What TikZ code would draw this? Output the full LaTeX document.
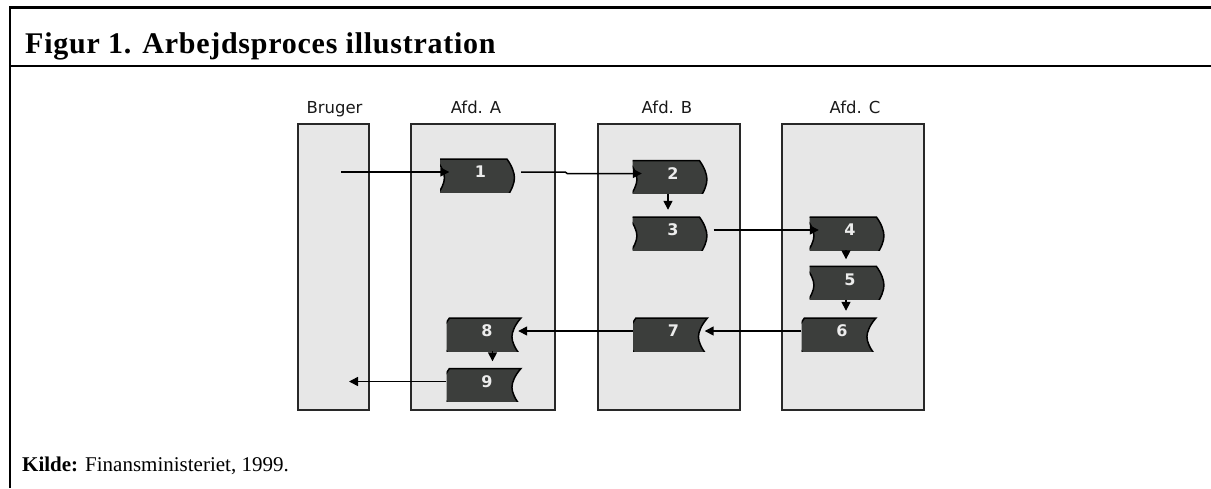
\documentclass[tikz,border=0pt]{standalone}
\usepackage{fontspec}
\setmainfont{Liberation Serif}
\newfontfamily\titlefont{Liberation Serif}[LetterSpace=2.5]
\newfontfamily\lanefont{DejaVu Sans}
\usetikzlibrary{arrows.meta}
\definecolor{lanefill}{RGB}{231,231,231}
\definecolor{laneline}{RGB}{40,40,40}
\definecolor{procfill}{RGB}{60,62,60}
\definecolor{numtext}{RGB}{236,236,236}

\tikzset{
  frame/.style={line width=2.2pt, draw=black},
  lane/.style={draw=laneline, fill=lanefill, line width=1.6pt, inner sep=0pt},
  lanelabel/.style={font=\lanefont\fontsize{16.5}{19}\selectfont, text=black!90, anchor=base, inner sep=0pt},
  procbase/.style={minimum width=81pt, minimum height=40pt, inner sep=0pt,
    text=numtext, font=\lanefont\bfseries\fontsize{16}{18}\selectfont},
  % step box pointing right: notched left side, rounded point on the right
  procR/.style={procbase, path picture={
    \path[fill=procfill, draw=black, line width=1.5pt, shift={(path picture bounding box.center)}]
      (-39.5pt,18.8pt) -- (32pt,18.8pt)
      .. controls (37pt,12pt) and (39.5pt,5pt) .. (39.5pt,0pt)
      .. controls (39.5pt,-5pt) and (37pt,-12pt) .. (32pt,-18.8pt)
      -- (-39.5pt,-18.8pt)
      .. controls (-33.5pt,-12pt) and (-30.5pt,-5pt) .. (-30.5pt,0pt)
      .. controls (-30.5pt,5pt) and (-33.5pt,12pt) .. (-39.5pt,18.8pt) -- cycle;}},
  % step box pointing left: rounded point on the left, notched right side
  procL/.style={procbase, path picture={
    \path[fill=procfill, draw=black, line width=1.5pt, shift={(path picture bounding box.center)}]
      (39.5pt,18.8pt) -- (-32pt,18.8pt)
      .. controls (-37pt,12pt) and (-39.5pt,5pt) .. (-39.5pt,0pt)
      .. controls (-39.5pt,-5pt) and (-37pt,-12pt) .. (-32pt,-18.8pt)
      -- (39.5pt,-18.8pt)
      .. controls (33.5pt,-12pt) and (30.5pt,-5pt) .. (30.5pt,0pt)
      .. controls (30.5pt,5pt) and (33.5pt,12pt) .. (39.5pt,18.8pt) -- cycle;}},
  flow/.style={line width=1.5pt, draw=black, -{Triangle[length=9pt,width=9pt]}},
}

\begin{document}
\begin{tikzpicture}[x=1pt,y=-1pt]
\useasboundingbox (0,0) rectangle (1211,488);

% frame of the figure box
\draw[frame] (10,488) -- (10,7.5) -- (1211,7.5);
\draw[frame] (10,66) -- (1211,66);
\node[anchor=base west, inner sep=0pt, font=\titlefont\bfseries\fontsize{30}{34}\selectfont]
  (title) at (25,53) {Figur 1. Arbejdsproces illustration};
\node[anchor=base west, inner sep=0pt, font=\fontsize{21}{25}\selectfont]
  (source) at (22,471) {\textbf{Kilde:} Finansministeriet, 1999.};

% swimlanes
\node[lane, minimum width=71pt,  minimum height=286pt] (bruger) at (333.5,267) {};
\node[lane, minimum width=144pt, minimum height=286pt] (afdA)   at (483,267) {};
\node[lane, minimum width=142pt, minimum height=286pt] (afdB)   at (669,267) {};
\node[lane, minimum width=142pt, minimum height=286pt] (afdC)   at (853,267) {};

\node[lanelabel] (lblBruger) at (334.5,113) {Bruger};
\node[lanelabel] (lblA) at (476,113) {Afd. A};
\node[lanelabel] (lblB) at (667,113) {Afd. B};
\node[lanelabel] (lblC) at (855,113) {Afd. C};

% process steps
\node[procR] (n1) at (480.5,172) {1};
\node[procR] (n2) at (673,173.5) {2};
\node[procR] (n3) at (673,230) {3};
\node[procR] (n4) at (850,230) {4};
\node[procR] (n5) at (850,279.5) {5};
\node[procL] (n6) at (842,331) {6};
\node[procL] (n7) at (673.5,331) {7};
\node[procL] (n8) at (487,331) {8};
\node[procL] (n9) at (487,381.5) {9};

% flow
\coordinate (bIn)  at (341,172);
\coordinate (bOut) at (349,381.5);
\draw[flow] (bIn) -- ([xshift=9.5pt]n1.west);
\draw[flow] (n1.east) -- ++(44pt,0pt) -- ++(2pt,-1.5pt) -- ([xshift=9.5pt]n2.west);
\draw[flow] ([xshift=-5pt]n2.south) -- ([xshift=-5pt]n3.north);
\draw[flow] (n3.east) -- ([xshift=9.5pt]n4.west);
\draw[flow] ([xshift=-4pt]n4.south) -- ([xshift=-4pt]n5.north);
\draw[flow] ([xshift=-4pt]n5.south) -- ([xshift=4pt]n6.north);
\draw[flow] (n6.west) -- ([xshift=-9.5pt]n7.east);
\draw[flow] (n7.west) -- ([xshift=-9.5pt]n8.east);
\draw[flow] ([xshift=5.5pt]n8.south) -- ([xshift=5.5pt]n9.north);
\draw[flow] (n9.west) -- (bOut);
\end{tikzpicture}
\end{document}
